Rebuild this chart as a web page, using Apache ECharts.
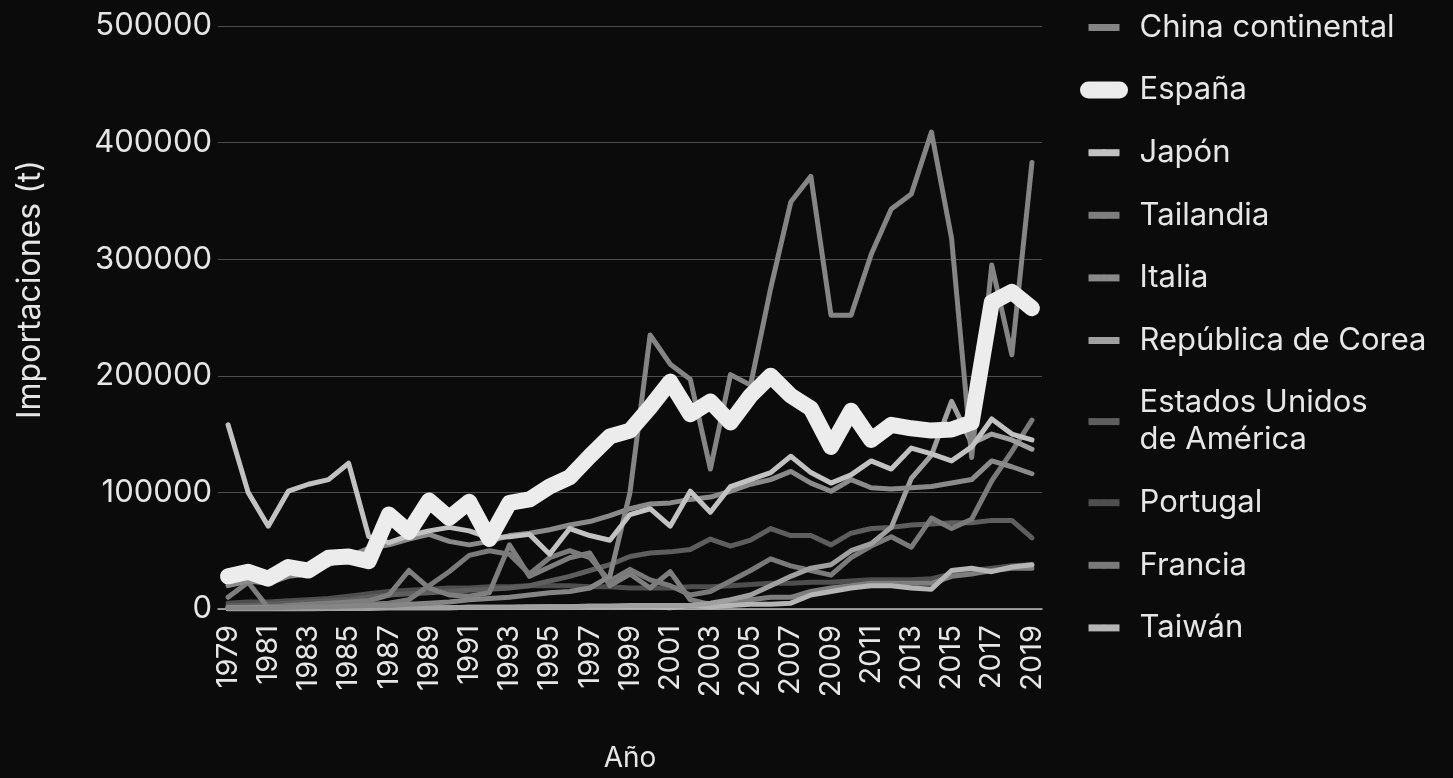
<!DOCTYPE html>
<html>
<head>
<meta charset="utf-8">
<script src="https://cdn.jsdelivr.net/npm/echarts@6/dist/echarts.min.js"></script>
<style>
html,body{margin:0;padding:0;background:#0b0b0b;}
#c{width:1453px;height:778px;}
</style>
</head>
<body>
<div id="c"></div>
<script>
const years = ['1979','1980','1981','1982','1983','1984','1985','1986','1987','1988',
  '1989','1990','1991','1992','1993','1994','1995','1996','1997','1998',
  '1999','2000','2001','2002','2003','2004','2005','2006','2007','2008',
  '2009','2010','2011','2012','2013','2014','2015','2016','2017','2018','2019'];

const china = [1000,1000,1000,1500,2000,2000,2500,3000,3000,4000,
  5000,6000,8000,9000,10000,12000,14000,15000,18000,28000,
  100000,235000,210000,197000,120000,201000,192000,275000,349000,371000,
  252000,252000,304000,343000,356000,409000,318000,130000,295000,218000,383000];

const espana = [28000,32000,26000,36000,33000,44000,45000,41000,81000,66000,
  93000,78000,92000,60000,91000,94000,105000,113000,131000,148000,
  153000,173000,195000,167000,178000,160000,183000,200000,183000,172000,
  139000,170000,145000,158000,155000,153000,154000,160000,263000,272000,258000];

const japon = [158000,100000,71000,101000,107000,111000,125000,62000,57000,63000,
  67000,70000,67000,61000,62000,64000,47000,69000,63000,59000,
  81000,86000,71000,101000,83000,105000,111000,117000,131000,117000,
  108000,115000,127000,120000,138000,133000,127000,139000,163000,150000,145000];

const tailandia = [10000,23000,1000,3000,4000,5000,6000,7000,12000,33000,
  18000,12000,11000,14000,55000,28000,36000,44000,48000,20000,
  30000,18000,32000,8000,4000,6000,8000,10000,10000,15000,
  18000,20000,22000,22000,22000,22000,28000,30000,33000,35000,35000];

const italia = [20000,24000,22000,28000,30000,38000,45000,52000,55000,60000,
  64000,58000,55000,58000,63000,65000,68000,72000,75000,80000,
  86000,90000,91000,94000,96000,101000,107000,111000,118000,108000,
  101000,111000,104000,103000,104000,105000,108000,111000,127000,122000,116000];

const corea = [0,0,0,0,0,500,500,500,1000,1000,
  1000,1000,1500,1500,1500,2000,2000,2000,2500,2500,
  3000,3000,3000,3000,5000,8000,12000,20000,28000,35000,
  38000,50000,56000,70000,112000,132000,178000,142000,150000,145000,137000];

const eeuu = [3000,3000,4000,5000,6000,7000,8000,10000,12000,13000,
  14000,15000,16000,17000,18000,20000,24000,28000,33000,38000,
  45000,48000,49000,51000,60000,54000,59000,69000,63000,63000,
  55000,65000,69000,70000,72000,73000,74000,74000,76000,76000,61000];

const portugal = [5000,6000,6000,7000,8000,9000,11000,13000,15000,16000,
  17000,18000,18000,19000,19000,20000,20000,20000,19000,19000,
  18000,18000,18000,19000,19000,20000,21000,22000,22000,23000,
  23000,24000,25000,25000,25000,26000,30000,33000,35000,37000,38000];

const francia = [1000,1500,2000,2000,2500,3000,3000,4000,5000,8000,
  20000,32000,46000,50000,47000,30000,44000,50000,44000,24000,
  34000,25000,20000,12000,15000,24000,33000,43000,37000,33000,
  29000,44000,54000,62000,53000,78000,69000,77000,110000,135000,162000];

const taiwan = [1000,1000,1000,1000,1000,1000,1000,1000,1000,1000,
  1000,1000,1500,1500,1500,1500,2000,2000,2000,2000,
  2000,2000,1000,3000,2000,3000,4000,4000,5000,12000,
  15000,18000,20000,20000,18000,17000,33000,35000,32000,36000,38000];

const yTicks = ['0','100000','200000','300000','400000','500000'];

const legendNames = ['China continental','España','Japón','Tailandia','Italia',
  'República de Corea','Estados Unidos\nde América','Portugal','Francia','Taiwán'];

// draw order (later = on top)
const seriesDefs = [
  {name: legendNames[7], data: portugal, color: '#4e4e4e', w: 5},
  {name: legendNames[6], data: eeuu, color: '#5e5e5e', w: 5},
  {name: legendNames[3], data: tailandia, color: '#7e7e7e', w: 5},
  {name: legendNames[8], data: francia, color: '#7a7a7a', w: 5},
  {name: legendNames[9], data: taiwan, color: '#b5b5b5', w: 5},
  {name: legendNames[5], data: corea, color: '#a0a0a0', w: 5},
  {name: legendNames[4], data: italia, color: '#8a8a8a', w: 5},
  {name: legendNames[0], data: china, color: '#858585', w: 5},
  {name: legendNames[2], data: japon, color: '#c2c2c2', w: 5},
  {name: legendNames[1], data: espana, color: '#ececec', w: 16}
];

const FONT = 'Inter';
const chart = echarts.init(document.getElementById('c'), null, {renderer: 'canvas'});
chart.setOption({
  backgroundColor: '#0b0b0b',
  animation: false,
  grid: {left: 218, right: 411, top: 26, bottom: 164, containLabel: false},
  legend: {
    orient: 'vertical',
    left: 1075,
    top: 4,
    itemWidth: 31,
    itemHeight: 8,
    itemGap: 25.6,
    textStyle: {color: '#e6e6e6', fontSize: 31, fontFamily: FONT, lineHeight: 37, padding: [0, 0, 0, 15]},
    lineStyle: {width: 7},
    data: legendNames.map(n => n === 'España'
      ? {name: n, lineStyle: {width: 17, cap: 'round'}}
      : {name: n, lineStyle: {width: 7, cap: 'butt'}})
  },
  xAxis: {
    type: 'category',
    data: years,
    boundaryGap: true,
    name: 'Año',
    nameLocation: 'middle',
    nameGap: 136,
    nameTextStyle: {color: '#e6e6e6', fontSize: 28, fontFamily: FONT},
    axisLine: {show: true, lineStyle: {color: '#bdbdbd', width: 1.5}},
    axisTick: {show: false},
    axisLabel: {interval: 1, rotate: 90, margin: 16, color: '#e6e6e6', fontSize: 29, fontFamily: FONT}
  },
  yAxis: {
    type: 'value',
    min: 0,
    max: 500000,
    interval: 100000,
    name: 'Importaciones (t)',
    nameLocation: 'middle',
    nameGap: 172,
    nameTextStyle: {color: '#e6e6e6', fontSize: 32, fontFamily: FONT, padding: [0, 0, 0, 56]},
    axisLine: {show: false},
    axisTick: {show: false},
    splitLine: {show: true, lineStyle: {color: '#4d4d4d', width: 1.2}},
    axisLabel: {
      margin: 6, color: '#e6e6e6', fontSize: 31, fontFamily: FONT,
      formatter: v => yTicks[Math.round(v / 100000)] ?? String(v)
    }
  },
  series: seriesDefs.map((s, i) => ({
    name: s.name,
    type: 'line',
    data: s.data,
    symbol: 'none',
    smooth: false,
    z: 2 + i,
    color: s.color,
    lineStyle: {color: s.color, width: s.w, cap: 'round', join: 'round'},
    emphasis: {disabled: true}
  }))
});
</script>
</body>
</html>
